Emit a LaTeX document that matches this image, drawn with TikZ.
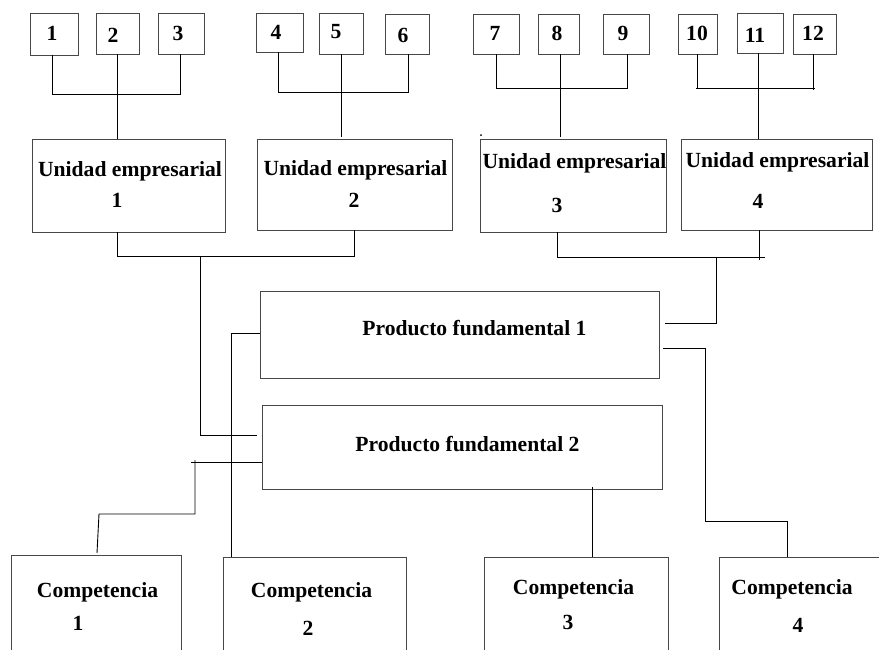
\documentclass[tikz,border=0pt]{standalone}
\usepackage{fontspec}
\setmainfont{Liberation Serif}
\begin{document}
\begin{tikzpicture}[x=1pt,y=-1pt,
  box/.style={draw=black!72,line width=1pt,inner sep=0pt,outer sep=0pt,anchor=north west},
  lbl/.style={inner sep=0pt,font=\fontsize{21.6}{26}\selectfont\bfseries},
  link/.style={draw=black,line width=0.9pt}]
\clip (0,0) rectangle (879,649);
\fill[white] (0,0) rectangle (879,649);

% ---- numbered boxes on top ----
\node[box,minimum width=48pt,minimum height=42pt] (b1)  at (30,13)  {};
\node[box,minimum width=43pt,minimum height=41pt] (b2)  at (96,13)  {};
\node[box,minimum width=46pt,minimum height=41pt] (b3)  at (158,13) {};
\node[box,minimum width=47pt,minimum height=39pt] (b4)  at (256,13) {};
\node[box,minimum width=44pt,minimum height=41pt] (b5)  at (319,13) {};
\node[box,minimum width=44pt,minimum height=40pt] (b6)  at (385,14) {};
\node[box,minimum width=46pt,minimum height=40pt] (b7)  at (473,14) {};
\node[box,minimum width=41pt,minimum height=40pt] (b8)  at (538,14) {};
\node[box,minimum width=46pt,minimum height=40pt] (b9)  at (603,14) {};
\node[box,minimum width=39pt,minimum height=40pt] (b10) at (678,14) {};
\node[box,minimum width=46pt,minimum height=40pt] (b11) at (737,13) {};
\node[box,minimum width=43pt,minimum height=40pt] (b12) at (793,14) {};

\node[lbl] (t1)  at (52,33)  {1};
\node[lbl] (t2)  at (113,35) {2};
\node[lbl] (t3)  at (178,33) {3};
\node[lbl] (t4)  at (276,32) {4};
\node[lbl] (t5)  at (336,32) {5};
\node[lbl] (t6)  at (403,35) {6};
\node[lbl] (t7)  at (495,33) {7};
\node[lbl] (t8)  at (557,33) {8};
\node[lbl] (t9)  at (623,33) {9};
\node[lbl] (t10) at (697,33) {10};
\node[lbl] (t11) at (755,35) {11};
\node[lbl] (t12) at (813,33) {12};

% ---- business units ----
\node[box,minimum width=193pt,minimum height=93pt] (u1) at (32,139)  {};
\node[box,minimum width=195pt,minimum height=91pt] (u2) at (257,139) {};
\node[box,minimum width=186pt,minimum height=93pt] (u3) at (480,139) {};
\node[box,minimum width=191pt,minimum height=91pt] (u4) at (681,139) {};

\node[lbl] (u1a) at (130,171)   {Unidad empresarial};
\node[lbl] (u1b) at (117,200)   {1};
\node[lbl] (u2a) at (355.5,170) {Unidad empresarial};
\node[lbl] (u2b) at (354,200)   {2};
\node[lbl] (u3a) at (574.5,163) {Unidad empresarial};
\node[lbl] (u3b) at (557,205)   {3};
\node[lbl] (u4a) at (777.5,162) {Unidad empresarial};
\node[lbl] (u4b) at (758,201)   {4};

% ---- core products ----
\node[box,minimum width=399pt,minimum height=87pt] (pf1) at (260,291) {};
\node[box,minimum width=400pt,minimum height=84pt] (pf2) at (262,405) {};
\node[lbl] (pf1t) at (474.5,328) {Producto fundamental 1};
\node[lbl] (pf2t) at (467.5,444) {Producto fundamental 2};

% ---- competences (cut by the lower edge) ----
\node[box,minimum width=170pt,minimum height=150pt] (c1) at (11,555)  {};
\node[box,minimum width=183pt,minimum height=150pt] (c2) at (223,557) {};
\node[box,minimum width=184pt,minimum height=150pt] (c3) at (484,557) {};
\node[box,minimum width=181pt,minimum height=150pt] (c4) at (719,557) {};

\node[lbl] (c1a) at (97.5,592)  {Competencia};
\node[lbl] (c1b) at (78,623)    {1};
\node[lbl] (c2a) at (311.5,592) {Competencia};
\node[lbl] (c2b) at (308,628)   {2};
\node[lbl] (c3a) at (573.5,589) {Competencia};
\node[lbl] (c3b) at (568,622)   {3};
\node[lbl] (c4a) at (792,589)   {Competencia};
\node[lbl] (c4b) at (798,625)   {4};

% ---- junction points ----
\coordinate (m12) at (200,256);
\coordinate (m34) at (716,257);
\coordinate (r1)  at (705,521);
\coordinate (l2)  at (195,460);
\coordinate (l3)  at (99,514);

% ---- connectors: numbered boxes to units ----
\draw[link] ([xshift=-2pt]b1.south) -- ++(0,39) -| ([xshift=-1pt]b3.south);
\draw[link] (b2.south) -- (b2.south |- u1.north);
\draw[link] ([xshift=-1.5pt]b4.south) -- ++(0,40) -| ([xshift=1pt]b6.south);
\draw[link] (b5.south) -- ([yshift=2pt]b5.south |- u2.north);
\draw[link] (b7.south) -- ++(0,34) -| ([xshift=1.5pt]b9.south);
\draw[link] ([xshift=1.5pt]b8.south) -- ([xshift=1.5pt,yshift=2pt]b8.south |- u3.north);
\draw[link] ([xshift=-1.5pt,yshift=-34pt]b10.south) -- ++(119,0);
\draw[link] (b10.south) -- ++(0,34);
\draw[link] ([xshift=-1.5pt]b12.south) -- ++(0,36);
\draw[link] ([xshift=-2pt]b11.south) -- ([xshift=-2pt]b11.south |- u4.north);

% ---- connectors: units to core products ----
\draw[link] ([xshift=-11.5pt]u1.south) -- ++(0,24) -| (u2.south);
\draw[link] (m12) |- ([xshift=-5pt,yshift=12pt]pf2.west);
\draw[link] ([xshift=-16pt]u3.south) |- ([xshift=-11.5pt]u4.south |- m34);
\draw[link] ([xshift=-17.5pt]u4.south) -- ++(0,30);
\draw[link] (m34) |- ([xshift=6pt,yshift=11.5pt]pf1.east);

% ---- connectors: core products to competences ----
\draw[link] ([yshift=1.5pt]pf1.west) -| ([xshift=-83.5pt]c2.north);
\draw[link] ([xshift=4pt,yshift=-13.5pt]pf1.east) -| (r1) -| ([xshift=-22.5pt]c4.north);
\draw[link] ([yshift=-15pt]pf2.west) -- ++(-71,0);
\draw[link] (l2) |- (l3) -- ([xshift=1pt,yshift=2pt]c1.north);
\draw[link] ([xshift=130pt,yshift=2pt]pf2.south) -- ([xshift=16pt]c3.north);

% stray ink dot
\fill (481,135) circle (1pt);
\end{tikzpicture}
\end{document}
